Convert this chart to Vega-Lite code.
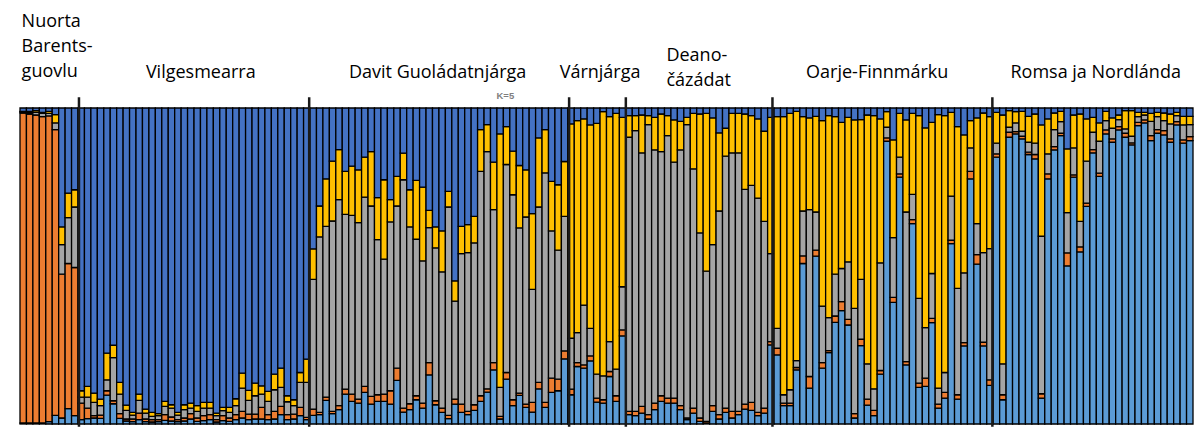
{
"$schema": "https://vega.github.io/schema/vega-lite/v6.json",
"width": 1173, "height": 316,
"autosize": {"type": "none"},
"padding": {"left": 20, "top": 108, "right": 1, "bottom": 3},
"background": "white",
"config": {"view": {"stroke": null}},
"datasets": {
"q": [
{"i":1,"c1":3,"c2":933,"c3":3,"c4":2,"c5":10},
{"i":2,"c1":3,"c2":930,"c3":4,"c4":4,"c5":10},
{"i":3,"c1":3,"c2":927,"c3":8,"c4":5,"c5":8},
{"i":4,"c1":3,"c2":922,"c3":10,"c4":3,"c5":13},
{"i":5,"c1":7,"c2":920,"c3":8,"c4":6,"c5":10},
{"i":6,"c1":26,"c2":860,"c3":20,"c4":25,"c5":20},
{"i":7,"c1":18,"c2":433,"c3":89,"c4":53,"c5":358},
{"i":8,"c1":46,"c2":437,"c3":138,"c4":74,"c5":256},
{"i":9,"c1":25,"c2":446,"c3":182,"c4":52,"c5":246},
{"i":10,"c1":13,"c2":50,"c3":18,"c4":19,"c5":851},
{"i":11,"c1":16,"c2":32,"c3":33,"c4":32,"c5":838},
{"i":12,"c1":18,"c2":7,"c3":40,"c4":28,"c5":858},
{"i":13,"c1":17,"c2":10,"c3":28,"c4":20,"c5":876},
{"i":14,"c1":87,"c2":13,"c3":33,"c4":80,"c5":738},
{"i":15,"c1":61,"c2":9,"c3":130,"c4":37,"c5":714},
{"i":16,"c1":17,"c2":14,"c3":59,"c4":35,"c5":826},
{"i":17,"c1":9,"c2":6,"c3":26,"c4":16,"c5":894},
{"i":18,"c1":7,"c2":8,"c3":12,"c4":8,"c5":916},
{"i":19,"c1":13,"c2":20,"c3":38,"c4":19,"c5":861},
{"i":20,"c1":7,"c2":8,"c3":18,"c4":12,"c5":906},
{"i":21,"c1":6,"c2":7,"c3":10,"c4":12,"c5":916},
{"i":22,"c1":7,"c2":6,"c3":12,"c4":6,"c5":920},
{"i":23,"c1":11,"c2":17,"c3":25,"c4":15,"c5":883},
{"i":24,"c1":9,"c2":12,"c3":27,"c4":10,"c5":893},
{"i":25,"c1":7,"c2":6,"c3":14,"c4":8,"c5":916},
{"i":26,"c1":9,"c2":9,"c3":25,"c4":15,"c5":893},
{"i":27,"c1":15,"c2":16,"c3":17,"c4":15,"c5":888},
{"i":28,"c1":8,"c2":10,"c3":20,"c4":17,"c5":896},
{"i":29,"c1":10,"c2":15,"c3":23,"c4":17,"c5":886},
{"i":30,"c1":13,"c2":15,"c3":20,"c4":17,"c5":886},
{"i":31,"c1":6,"c2":7,"c3":12,"c4":8,"c5":918},
{"i":32,"c1":10,"c2":15,"c3":15,"c4":10,"c5":901},
{"i":33,"c1":8,"c2":10,"c3":17,"c4":15,"c5":901},
{"i":34,"c1":13,"c2":15,"c3":27,"c4":21,"c5":875},
{"i":35,"c1":18,"c2":20,"c3":70,"c4":45,"c5":798},
{"i":36,"c1":13,"c2":17,"c3":41,"c4":30,"c5":850},
{"i":37,"c1":15,"c2":15,"c3":55,"c4":38,"c5":828},
{"i":38,"c1":15,"c2":35,"c3":40,"c4":25,"c5":836},
{"i":39,"c1":13,"c2":15,"c3":40,"c4":30,"c5":853},
{"i":40,"c1":15,"c2":23,"c3":65,"c4":47,"c5":801},
{"i":41,"c1":28,"c2":25,"c3":57,"c4":58,"c5":783},
{"i":42,"c1":13,"c2":15,"c3":39,"c4":18,"c5":866},
{"i":43,"c1":15,"c2":15,"c3":25,"c4":18,"c5":878},
{"i":44,"c1":25,"c2":25,"c3":75,"c4":30,"c5":796},
{"i":45,"c1":13,"c2":7,"c3":105,"c4":70,"c5":756},
{"i":46,"c1":26,"c2":19,"c3":390,"c4":92,"c5":424},
{"i":47,"c1":28,"c2":7,"c3":528,"c4":93,"c5":295},
{"i":48,"c1":71,"c2":10,"c3":514,"c4":143,"c5":213},
{"i":49,"c1":31,"c2":7,"c3":573,"c4":180,"c5":160},
{"i":50,"c1":43,"c2":12,"c3":620,"c4":151,"c5":125},
{"i":51,"c1":90,"c2":15,"c3":526,"c4":129,"c5":191},
{"i":52,"c1":68,"c2":22,"c3":538,"c4":148,"c5":175},
{"i":53,"c1":63,"c2":12,"c3":531,"c4":159,"c5":186},
{"i":54,"c1":95,"c2":18,"c3":570,"c4":120,"c5":148},
{"i":55,"c1":60,"c2":23,"c3":573,"c4":164,"c5":131},
{"i":56,"c1":68,"c2":20,"c3":467,"c4":126,"c5":270},
{"i":57,"c1":68,"c2":22,"c3":406,"c4":239,"c5":216},
{"i":58,"c1":60,"c2":40,"c3":508,"c4":67,"c5":276},
{"i":59,"c1":131,"c2":37,"c3":488,"c4":89,"c5":206},
{"i":60,"c1":36,"c2":12,"c3":687,"c4":80,"c5":136},
{"i":61,"c1":43,"c2":18,"c3":532,"c4":112,"c5":246},
{"i":62,"c1":73,"c2":12,"c3":471,"c4":177,"c5":218},
{"i":63,"c1":48,"c2":15,"c3":428,"c4":222,"c5":238},
{"i":64,"c1":148,"c2":37,"c3":406,"c4":52,"c5":308},
{"i":65,"c1":58,"c2":12,"c3":460,"c4":63,"c5":358},
{"i":66,"c1":35,"c2":13,"c3":410,"c4":123,"c5":370},
{"i":67,"c1":16,"c2":10,"c3":627,"c4":47,"c5":251},
{"i":68,"c1":60,"c2":15,"c3":295,"c4":61,"c5":520},
{"i":69,"c1":35,"c2":25,"c3":453,"c4":82,"c5":356},
{"i":70,"c1":28,"c2":10,"c3":478,"c4":84,"c5":351},
{"i":71,"c1":41,"c2":17,"c3":487,"c4":80,"c5":326},
{"i":72,"c1":68,"c2":17,"c3":675,"c4":126,"c5":65},
{"i":73,"c1":96,"c2":10,"c3":714,"c4":81,"c5":50},
{"i":74,"c1":163,"c2":22,"c3":460,"c4":143,"c5":163},
{"i":75,"c1":15,"c2":8,"c3":87,"c4":763,"c5":78},
{"i":76,"c1":135,"c2":20,"c3":626,"c4":114,"c5":56},
{"i":77,"c1":55,"c2":18,"c3":617,"c4":131,"c5":130},
{"i":78,"c1":86,"c2":7,"c3":497,"c4":188,"c5":173},
{"i":79,"c1":50,"c2":10,"c3":563,"c4":142,"c5":186},
{"i":80,"c1":36,"c2":29,"c3":340,"c4":228,"c5":318},
{"i":81,"c1":106,"c2":19,"c3":528,"c4":208,"c5":90},
{"i":82,"c1":50,"c2":15,"c3":691,"c4":130,"c5":65},
{"i":83,"c1":95,"c2":43,"c3":443,"c4":149,"c5":221},
{"i":84,"c1":100,"c2":35,"c3":388,"c4":197,"c5":231},
{"i":85,"c1":196,"c2":24,"c3":405,"c4":165,"c5":161},
{"i":86,"c1":88,"c2":17,"c3":153,"c4":645,"c5":48},
{"i":87,"c1":173,"c2":12,"c3":90,"c4":638,"c5":38},
{"i":88,"c1":168,"c2":10,"c3":180,"c4":560,"c5":33},
{"i":89,"c1":190,"c2":15,"c3":83,"c4":612,"c5":51},
{"i":90,"c1":66,"c2":12,"c3":72,"c4":755,"c5":46},
{"i":91,"c1":63,"c2":10,"c3":72,"c4":795,"c5":11},
{"i":92,"c1":143,"c2":15,"c3":90,"c4":677,"c5":26},
{"i":93,"c1":68,"c2":17,"c3":80,"c4":770,"c5":16},
{"i":94,"c1":265,"c2":18,"c3":130,"c4":510,"c5":28},
{"i":95,"c1":28,"c2":10,"c3":825,"c4":65,"c5":23},
{"i":96,"c1":25,"c2":13,"c3":845,"c4":45,"c5":23},
{"i":97,"c1":33,"c2":20,"c3":763,"c4":114,"c5":21},
{"i":98,"c1":15,"c2":13,"c3":873,"c4":27,"c5":23},
{"i":99,"c1":43,"c2":20,"c3":762,"c4":98,"c5":28},
{"i":100,"c1":68,"c2":17,"c3":735,"c4":113,"c5":18},
{"i":101,"c1":63,"c2":15,"c3":790,"c4":60,"c5":23},
{"i":102,"c1":63,"c2":15,"c3":710,"c4":127,"c5":36},
{"i":103,"c1":43,"c2":12,"c3":770,"c4":86,"c5":40},
{"i":104,"c1":13,"c2":5,"c3":883,"c4":22,"c5":28},
{"i":105,"c1":33,"c2":15,"c3":720,"c4":167,"c5":16},
{"i":106,"c1":8,"c2":10,"c3":557,"c4":358,"c5":18},
{"i":107,"c1":3,"c2":5,"c3":452,"c4":475,"c5":16},
{"i":108,"c1":38,"c2":17,"c3":485,"c4":381,"c5":30},
{"i":109,"c1":15,"c2":13,"c3":613,"c4":235,"c5":75},
{"i":110,"c1":35,"c2":13,"c3":758,"c4":84,"c5":61},
{"i":111,"c1":18,"c2":20,"c3":778,"c4":119,"c5":16},
{"i":112,"c1":28,"c2":10,"c3":778,"c4":119,"c5":16},
{"i":113,"c1":45,"c2":15,"c3":646,"c4":227,"c5":18},
{"i":114,"c1":41,"c2":24,"c3":653,"c4":210,"c5":23},
{"i":115,"c1":25,"c2":10,"c3":645,"c4":238,"c5":33},
{"i":116,"c1":33,"c2":15,"c3":562,"c4":271,"c5":70},
{"i":117,"c1":238,"c2":10,"c3":265,"c4":410,"c5":28},
{"i":118,"c1":208,"c2":20,"c3":60,"c4":637,"c5":26},
{"i":119,"c1":55,"c2":8,"c3":25,"c4":837,"c5":26},
{"i":120,"c1":55,"c2":8,"c3":40,"c4":832,"c5":16},
{"i":121,"c1":163,"c2":7,"c3":21,"c4":750,"c5":10},
{"i":122,"c1":483,"c2":23,"c3":135,"c4":284,"c5":26},
{"i":123,"c1":108,"c2":35,"c3":502,"c4":276,"c5":30},
{"i":124,"c1":505,"c2":18,"c3":115,"c4":288,"c5":25},
{"i":125,"c1":168,"c2":17,"c3":170,"c4":558,"c5":38},
{"i":126,"c1":215,"c2":6,"c3":99,"c4":608,"c5":23},
{"i":127,"c1":306,"c2":19,"c3":126,"c4":474,"c5":26},
{"i":128,"c1":341,"c2":27,"c3":100,"c4":440,"c5":43},
{"i":129,"c1":298,"c2":17,"c3":173,"c4":435,"c5":28},
{"i":130,"c1":18,"c2":13,"c3":317,"c4":567,"c5":36},
{"i":131,"c1":236,"c2":19,"c3":180,"c4":481,"c5":35},
{"i":132,"c1":57,"c2":18,"c3":106,"c4":749,"c5":21},
{"i":133,"c1":25,"c2":16,"c3":65,"c4":822,"c5":23},
{"i":134,"c1":150,"c2":11,"c3":324,"c4":433,"c5":33},
{"i":135,"c1":851,"c2":10,"c3":32,"c4":47,"c5":11},
{"i":136,"c1":366,"c2":15,"c3":180,"c4":294,"c5":96},
{"i":137,"c1":743,"c2":10,"c3":50,"c4":132,"c5":16},
{"i":138,"c1":178,"c2":10,"c3":450,"c4":277,"c5":36},
{"i":139,"c1":603,"c2":12,"c3":76,"c4":244,"c5":16},
{"i":140,"c1":110,"c2":13,"c3":255,"c4":550,"c5":23},
{"i":141,"c1":113,"c2":25,"c3":152,"c4":601,"c5":60},
{"i":142,"c1":305,"c2":13,"c3":135,"c4":455,"c5":43},
{"i":143,"c1":48,"c2":12,"c3":48,"c4":823,"c5":20},
{"i":144,"c1":78,"c2":17,"c3":60,"c4":773,"c5":23},
{"i":145,"c1":543,"c2":10,"c3":133,"c4":252,"c5":13},
{"i":146,"c1":75,"c2":13,"c3":320,"c4":487,"c5":56},
{"i":147,"c1":235,"c2":10,"c3":210,"c4":415,"c5":81},
{"i":148,"c1":738,"c2":22,"c3":71,"c4":82,"c5":38},
{"i":149,"c1":481,"c2":29,"c3":93,"c4":318,"c5":30},
{"i":150,"c1":235,"c2":11,"c3":270,"c4":420,"c5":15},
{"i":151,"c1":116,"c2":17,"c3":395,"c4":397,"c5":26},
{"i":152,"c1":803,"c2":10,"c3":32,"c4":93,"c5":13},
{"i":153,"c1":73,"c2":15,"c3":93,"c4":749,"c5":21},
{"i":154,"c1":863,"c2":15,"c3":15,"c4":50,"c5":8},
{"i":155,"c1":873,"c2":7,"c3":26,"c4":34,"c5":11},
{"i":156,"c1":858,"c2":8,"c3":15,"c4":60,"c5":10},
{"i":157,"c1":811,"c2":7,"c3":30,"c4":78,"c5":25},
{"i":158,"c1":798,"c2":13,"c3":34,"c4":88,"c5":18},
{"i":159,"c1":78,"c2":13,"c3":474,"c4":335,"c5":51},
{"i":160,"c1":738,"c2":15,"c3":60,"c4":105,"c5":33},
{"i":161,"c1":825,"c2":10,"c3":51,"c4":50,"c5":15},
{"i":162,"c1":868,"c2":7,"c3":35,"c4":31,"c5":10},
{"i":163,"c1":476,"c2":39,"c3":121,"c4":192,"c5":123},
{"i":164,"c1":743,"c2":7,"c3":81,"c4":99,"c5":21},
{"i":165,"c1":518,"c2":15,"c3":77,"c4":323,"c5":18},
{"i":166,"c1":655,"c2":10,"c3":126,"c4":127,"c5":33},
{"i":167,"c1":816,"c2":10,"c3":52,"c4":45,"c5":28},
{"i":168,"c1":745,"c2":10,"c3":96,"c4":55,"c5":45},
{"i":169,"c1":873,"c2":12,"c3":28,"c4":28,"c5":10},
{"i":170,"c1":848,"c2":10,"c3":32,"c4":31,"c5":30},
{"i":171,"c1":885,"c2":10,"c3":21,"c4":14,"c5":21},
{"i":172,"c1":863,"c2":12,"c3":13,"c4":55,"c5":8},
{"i":173,"c1":840,"c2":6,"c3":20,"c4":77,"c5":8},
{"i":174,"c1":898,"c2":10,"c3":17,"c4":13,"c5":13},
{"i":175,"c1":906,"c2":9,"c3":15,"c4":8,"c5":13},
{"i":176,"c1":853,"c2":15,"c3":43,"c4":24,"c5":16},
{"i":177,"c1":875,"c2":11,"c3":39,"c4":13,"c5":13},
{"i":178,"c1":870,"c2":13,"c3":30,"c4":23,"c5":15},
{"i":179,"c1":848,"c2":10,"c3":45,"c4":30,"c5":18},
{"i":180,"c1":900,"c2":10,"c3":18,"c4":10,"c5":13},
{"i":181,"c1":845,"c2":10,"c3":45,"c4":26,"c5":25},
{"i":182,"c1":853,"c2":12,"c3":36,"c4":25,"c5":25}
],
"lines": [{"pos":9.15},{"pos":44.87},{"pos":85.2},{"pos":94.0},{"pos":116.75},{"pos":150.87}]
},
"layer": [
{
"data": {"name": "q"},
"transform": [{"fold": ["c1","c2","c3","c4","c5"], "as": ["k","v"]}],
"mark": {"type": "bar", "stroke": "#000000", "strokeWidth": 1.3},
"encoding": {
"x": {"field": "i", "type": "ordinal", "scale": {"paddingInner": 0, "paddingOuter": 0}, "axis": null},
"y": {"field": "v", "type": "quantitative", "stack": "normalize", "scale": {"domain": [0,1], "nice": false}, "axis": null},
"color": {"field": "k", "type": "nominal", "scale": {"domain": ["c1","c2","c3","c4","c5"], "range": ["#5B9BD5","#ED7D31","#A5A5A5","#FFC000","#4472C4"]}, "legend": null},
"order": {"field": "k", "sort": "ascending"}
}
},
{
"data": {"name": "lines"},
"mark": {"type": "rule", "color": "#1a1a1a", "strokeWidth": 2.5},
"encoding": {
"x": {"field": "pos", "type": "quantitative", "scale": {"domain": [0,182], "nice": false, "zero": false}, "axis": null},
"y": {"datum": 1.034},
"y2": {"datum": -0.009}
}
},
{
"data": {"values": [
{"label": "Vilgesmearra", "pos": 28.05},
{"label": "Davit Guoládatnjárga", "pos": 64.8},
{"label": "Várnjárga", "pos": 90.0},
{"label": "Oarje-Finnmárku", "pos": 133.0},
{"label": "Romsa ja Nordlánda", "pos": 166.9}
]},
"mark": {"type": "text", "font": "Open Sans", "fontSize": 18, "align": "center", "baseline": "alphabetic", "color": "#000000"},
"encoding": {
"x": {"field": "pos", "type": "quantitative", "scale": {"domain": [0,182], "nice": false, "zero": false}, "axis": null},
"y": {"datum": 1.0949},
"text": {"field": "label"}
}
},
{
"data": {"values": [
{"label": ["Nuorta","Barents-","guovlu"], "pos": 0.25, "top": 1.2563},
{"label": ["Deano-","čázádat"], "pos": 100.3, "top": 1.1487}
]},
"mark": {"type": "text", "font": "Open Sans", "fontSize": 18, "align": "left", "baseline": "alphabetic", "lineHeight": 25, "color": "#000000"},
"encoding": {
"x": {"field": "pos", "type": "quantitative", "scale": {"domain": [0,182], "nice": false, "zero": false}, "axis": null},
"y": {"field": "top", "type": "quantitative"},
"text": {"field": "label"}
}
},
{
"data": {"values": [{"label": "K=5", "pos": 75.3}]},
"mark": {"type": "text", "font": "Liberation Sans", "fontSize": 9.5, "fontWeight": "bold", "align": "center", "baseline": "alphabetic", "color": "#7f7f7f"},
"encoding": {
"x": {"field": "pos", "type": "quantitative", "scale": {"domain": [0,182], "nice": false, "zero": false}, "axis": null},
"y": {"datum": 1.0285},
"text": {"field": "label"}
}
}
],
"resolve": {"scale": {"x": "independent"}}
}
